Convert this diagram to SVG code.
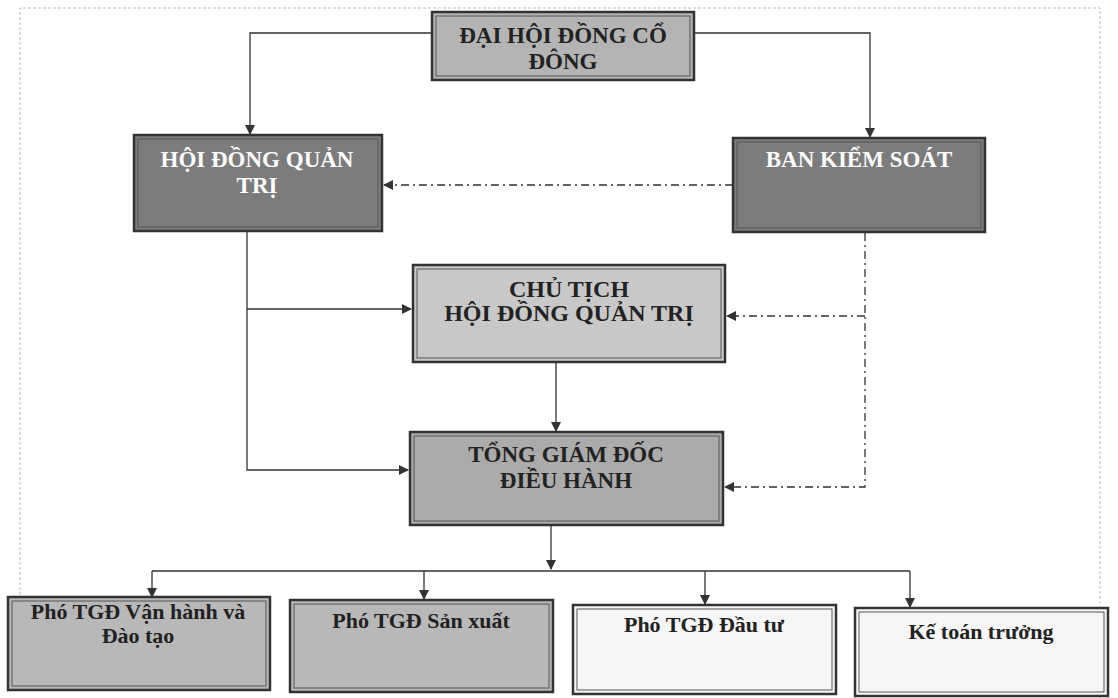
<svg xmlns="http://www.w3.org/2000/svg" width="1118" height="698" viewBox="0 0 1118 698">
<defs>
<marker id="ah" markerWidth="10" markerHeight="10" refX="9" refY="5" orient="auto" markerUnits="userSpaceOnUse">
<path d="M0,0 L10,5 L0,10 Z" fill="#333"/>
</marker>
<style>
.o{stroke:#333;stroke-width:2.5;}
.i{fill:none;stroke:#555;stroke-width:1;}
.t{font-family:"Liberation Serif","Times New Roman",serif;font-weight:bold;text-anchor:middle;}
.dk{fill:#222;}
.wh{fill:#fff;}
.c{fill:none;stroke:#333;stroke-width:1.3;}
.d{fill:none;stroke:#333;stroke-width:1.3;stroke-dasharray:8 4 2 4;}
</style>
</defs>
<rect width="1118" height="698" fill="#fff"/>
<path d="M20,595 L20,8 L1100,8 L1100,698" fill="none" stroke="#bbb" stroke-width="1" stroke-dasharray="3 2"/>
<g id="connectors">
<path class="c" d="M432,33 L250,33 L250,134" marker-end="url(#ah)"/>
<path class="c" d="M694,33 L870,33 L870,137" marker-end="url(#ah)"/>
<path class="d" d="M733,185 L384,185" marker-end="url(#ah)"/>
<path class="c" d="M247,231 L247,470 L408,470" marker-end="url(#ah)"/>
<path class="c" d="M247,309 L411,309" marker-end="url(#ah)"/>
<path class="d" d="M865,233 L865,487 L725,487" marker-end="url(#ah)"/>
<path class="d" d="M865,316 L727,316" marker-end="url(#ah)"/>
<path class="c" d="M556,363 L556,431" marker-end="url(#ah)"/>
<path class="c" d="M551,526 L551,569" marker-end="url(#ah)"/>
<path class="c" d="M152,571 L910,571"/>
<path class="c" d="M152,571 L152,597" marker-end="url(#ah)"/>
<path class="c" d="M424,571 L424,599" marker-end="url(#ah)"/>
<path class="c" d="M705,571 L705,604" marker-end="url(#ah)"/>
<path class="c" d="M910,571 L910,607" marker-end="url(#ah)"/>
</g>
<g id="dhdcd">
<rect class="o" x="432" y="12" width="262" height="68" fill="#b4b4b4"/>
<rect class="i" x="436" y="16" width="254" height="60"/>
<text class="t dk" font-size="23" x="563" y="43">ĐẠI HỘI ĐỒNG CỔ</text>
<text class="t dk" font-size="23" x="563" y="69">ĐÔNG</text>
</g>
<g id="hdqt">
<rect class="o" x="134" y="135" width="248" height="96" fill="#7c7c7c"/>
<rect class="i" x="138" y="139" width="240" height="88"/>
<text class="t wh" font-size="23" x="257" y="167">HỘI ĐỒNG QUẢN</text>
<text class="t wh" font-size="23" x="257" y="193">TRỊ</text>
</g>
<g id="bks">
<rect class="o" x="733" y="138" width="252" height="94" fill="#7c7c7c"/>
<rect class="i" x="737" y="142" width="244" height="86"/>
<text class="t wh" font-size="23" x="859" y="167">BAN KIỂM SOÁT</text>
</g>
<g id="chutich">
<rect class="o" x="413" y="265" width="312" height="97" fill="#c8c8c8"/>
<rect class="i" x="417" y="269" width="304" height="89"/>
<text class="t dk" font-size="24" x="569" y="297">CHỦ TỊCH</text>
<text class="t dk" font-size="24" x="569" y="321">HỘI ĐỒNG QUẢN TRỊ</text>
</g>
<g id="tgd">
<rect class="o" x="410" y="432" width="313" height="93" fill="#ababab"/>
<rect class="i" x="414" y="436" width="305" height="85"/>
<text class="t dk" font-size="23" x="566" y="462">TỔNG GIÁM ĐỐC</text>
<text class="t dk" font-size="23" x="566" y="488">ĐIỀU HÀNH</text>
</g>
<g id="pho-vanhanh">
<rect class="o" x="8" y="597" width="262" height="93" fill="#b8b8b8"/>
<rect class="i" x="12" y="601" width="254" height="85"/>
<text class="t dk" font-size="22" x="138" y="619">Phó TGĐ Vận hành và</text>
<text class="t dk" font-size="22" x="138" y="643">Đào tạo</text>
</g>
<g id="pho-sanxuat">
<rect class="o" x="290" y="600" width="263" height="92" fill="#b8b8b8"/>
<rect class="i" x="294" y="604" width="255" height="84"/>
<text class="t dk" font-size="22" x="421" y="628">Phó TGĐ Sản xuất</text>
</g>
<g id="pho-dautu">
<rect class="o" x="573" y="605" width="263" height="89" fill="#f6f6f6"/>
<rect class="i" x="577" y="609" width="255" height="81"/>
<text class="t dk" font-size="22" x="704" y="632">Phó TGĐ Đầu tư</text>
</g>
<g id="ketoan">
<rect class="o" x="855" y="608" width="253" height="88" fill="#f6f6f6"/>
<rect class="i" x="859" y="612" width="245" height="80"/>
<text class="t dk" font-size="22" x="981" y="639">Kế toán trưởng</text>
</g>
</svg>
